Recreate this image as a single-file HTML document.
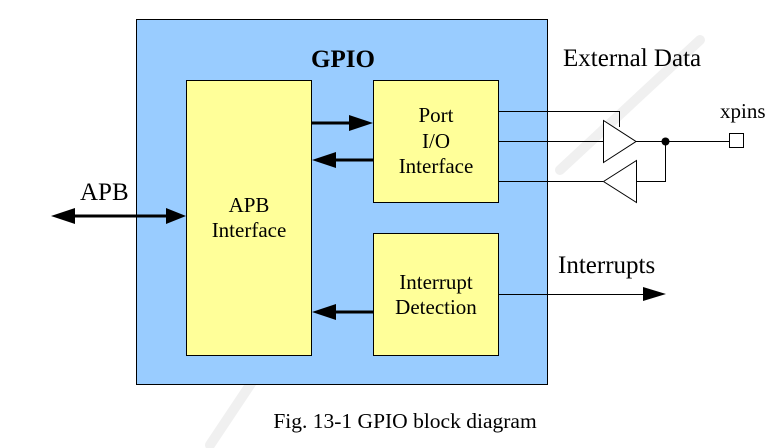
<!DOCTYPE html>
<html><head><meta charset="utf-8"><style>
html,body{margin:0;padding:0;background:#fff;}
svg{display:block;}
</style></head><body>
<svg width="780" height="448" viewBox="0 0 780 448" xmlns="http://www.w3.org/2000/svg" font-family="Liberation Serif, serif">
<g stroke="#f0f0f0" stroke-width="10" fill="none" stroke-linecap="round">
<path d="M560 170 L700 40"/>
<path d="M210 445 L260 370"/>
</g>
<rect x="136.5" y="19.5" width="411" height="365" fill="#99ccff" stroke="#000" stroke-width="1"/>
<rect x="186.5" y="80.5" width="125" height="275" fill="#ffff99" stroke="#000" stroke-width="1"/>
<rect x="373.5" y="80.5" width="125" height="122" fill="#ffff99" stroke="#000" stroke-width="1"/>
<rect x="373.5" y="233.5" width="125" height="122" fill="#ffff99" stroke="#000" stroke-width="1"/>
<g fill="#000">
<text x="343" y="67" font-size="25" font-weight="bold" text-anchor="middle">GPIO</text>
<text x="249" y="212" font-size="21" text-anchor="middle">APB</text>
<text x="249" y="237" font-size="21" text-anchor="middle">Interface</text>
<text x="436" y="122" font-size="21" text-anchor="middle">Port</text>
<text x="436" y="148" font-size="21" text-anchor="middle">I/O</text>
<text x="436" y="173" font-size="21" text-anchor="middle">Interface</text>
<text x="436" y="289" font-size="21" text-anchor="middle">Interrupt</text>
<text x="436" y="314" font-size="21" text-anchor="middle">Detection</text>
<text x="563" y="66" font-size="25">External Data</text>
<text x="558" y="273" font-size="25">Interrupts</text>
<text x="80" y="200" font-size="25">APB</text>
<text x="720" y="118" font-size="21">xpins</text>
<text x="405" y="428" font-size="21.5" text-anchor="middle">Fig. 13-1 GPIO block diagram</text>
</g>
<g stroke="#000" stroke-width="3">
<line x1="311" y1="123" x2="352" y2="123"/>
<line x1="334" y1="160" x2="374" y2="160"/>
<line x1="334" y1="312" x2="374" y2="312"/>
<line x1="70" y1="216" x2="166" y2="216"/>
</g>
<g fill="#000">
<polygon points="349,115 373,123 349,131"/>
<polygon points="336,152 312,160 336,168"/>
<polygon points="336,304 312,312 336,320"/>
<polygon points="166,208 186,216 166,224"/>
<polygon points="75,208 51,216 75,224"/>
<polygon points="643,287 666,294 643,301"/>
</g>
<g stroke="#000" stroke-width="1" fill="none">
<polyline points="498,111.5 619.5,111.5 619.5,127"/>
<line x1="498" y1="141.5" x2="603" y2="141.5"/>
<line x1="498" y1="181.5" x2="603" y2="181.5"/>
<polygon points="603.5,120.5 636,141.5 603.5,162.5" fill="#fff"/>
<polygon points="603.5,181.5 636.5,160.5 636.5,202.5" fill="#fff"/>
<line x1="636" y1="141.5" x2="729" y2="141.5"/>
<polyline points="636.5,181.5 665.5,181.5 665.5,141.5"/>
<rect x="729.5" y="133.5" width="14" height="14" fill="#fff"/>
<line x1="498" y1="294.5" x2="645" y2="294.5"/>
</g>
<circle cx="665.5" cy="141.5" r="4" fill="#000"/>
</svg>
</body></html>
